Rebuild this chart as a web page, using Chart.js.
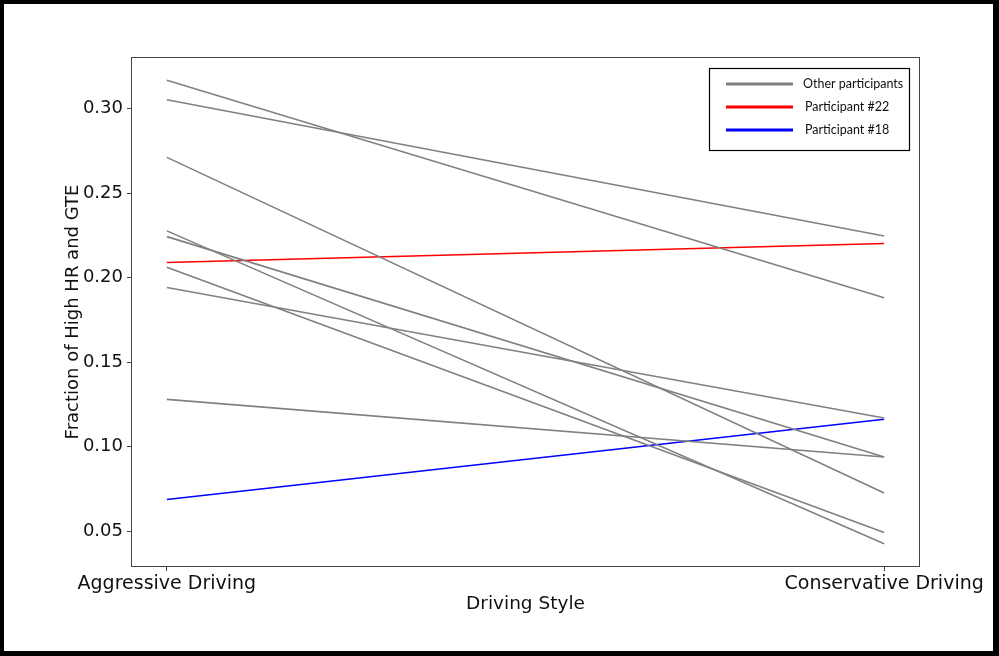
<!DOCTYPE html>
<html>
<head>
<meta charset="utf-8">
<script src="https://cdn.jsdelivr.net/npm/chart.js@4"></script>
<style>
  html, body { margin: 0; padding: 0; background: #fff; }
  #wrap { width: 999px; height: 656px; position: relative; }
</style>
</head>
<body>
<div id="wrap"><canvas id="c" width="999" height="656"></canvas></div>
<script>
// Categories on the x axis
const drivingStyles = ['Aggressive Driving', 'Conservative Driving'];

// Fraction of high HR and GTE, one value per participant for each driving style
const othersAggressive   = [0.3169, 0.3053, 0.2712, 0.2277, 0.2243, 0.2062, 0.1942, 0.1280];
const othersConservative = [0.1881, 0.2247, 0.0726, 0.0425, 0.0939, 0.0492, 0.1170, 0.0939];
const participant22 = [0.2090, 0.2202];
const participant18 = [0.0687, 0.1162];

// Y axis tick values
const yTickValues = [0.05, 0.10, 0.15, 0.20, 0.25, 0.30];

const seriesNames  = ['Other participants', 'Participant #22', 'Participant #18'];
const seriesColors = ['#808080', '#ff0000', '#0000ff'];

const toPoints = (vals) => vals.map((y, i) => ({ x: i, y }));

const datasets = othersAggressive.map((a, i) => ({
  label: i === 0 ? seriesNames[0] : '',
  data: toPoints([a, othersConservative[i]]),
  borderColor: seriesColors[0],
  inLegend: i === 0
}));
datasets.push({ label: seriesNames[1], data: toPoints(participant22), borderColor: seriesColors[1], inLegend: true });
datasets.push({ label: seriesNames[2], data: toPoints(participant18), borderColor: seriesColors[2], inLegend: true });

const xTickFont = { family: '"DejaVu Sans", sans-serif', size: 19 };
const yTickFont = { family: '"DejaVu Sans", sans-serif', size: 18 };
const xTitleFont = { family: '"DejaVu Sans", sans-serif', size: 18.5 };
const yTitleFont = { family: '"DejaVu Sans", sans-serif', size: 18 };
const textColor = '#111';

// Frame, top/right spines and the boxed legend
const decorPlugin = {
  id: 'decor',
  beforeDraw(chart) {
    const ctx = chart.ctx;
    ctx.save();
    ctx.fillStyle = '#fff';
    ctx.fillRect(0, 0, chart.width, chart.height);
    ctx.restore();
  },
  afterDraw(chart) {
    const ctx = chart.ctx;
    const ca = chart.chartArea;
    ctx.save();
    // plot spines
    ctx.strokeStyle = '#444';
    ctx.lineWidth = 1;
    ctx.strokeRect(Math.round(ca.left) + 0.5, Math.round(ca.top) + 0.5,
                   Math.round(ca.right - ca.left) - 1, Math.round(ca.bottom - ca.top) - 1);

    // legend box
    const lx = 709, ly = 68, lw = 200, lh = 82;
    ctx.fillStyle = '#fff';
    ctx.fillRect(lx, ly, lw, lh);
    ctx.strokeStyle = '#000';
    ctx.lineWidth = 1.2;
    ctx.strokeRect(lx + 0.5, ly + 0.5, lw, lh);
    const entries = chart.data.datasets.filter(d => d.inLegend);
    const rowY = [84, 107, 130];
    ctx.font = '12.5px Lato, "Open Sans", sans-serif';
    ctx.textBaseline = 'middle';
    ctx.textAlign = 'left';
    entries.forEach((d, i) => {
      ctx.strokeStyle = d.borderColor;
      ctx.lineWidth = 3;
      ctx.beginPath();
      ctx.moveTo(726, rowY[i]);
      ctx.lineTo(793, rowY[i]);
      ctx.stroke();
      ctx.fillStyle = '#111';
      ctx.fillText(d.label, i === 0 ? 803 : 805, rowY[i]);
    });

    // outer black frame
    ctx.fillStyle = '#000';
    ctx.fillRect(0, 0, chart.width, 4);
    ctx.fillRect(0, 0, 4, chart.height);
    ctx.fillRect(chart.width - 6, 0, 6, chart.height);
    ctx.fillRect(0, chart.height - 5, chart.width, 5);
    ctx.restore();
  }
};

new Chart(document.getElementById('c'), {
  type: 'line',
  data: { datasets },
  plugins: [decorPlugin],
  options: {
    responsive: false,
    animation: false,
    events: [],
    layout: { padding: { left: 0, right: 79, top: 57, bottom: 41 } },
    plugins: { legend: { display: false }, tooltip: { enabled: false } },
    elements: {
      point: { radius: 0 },
      line: { borderWidth: 1.6, tension: 0, fill: false }
    },
    scales: {
      x: {
        type: 'linear',
        min: -0.05,
        max: 1.05,
        afterBuildTicks: s => { s.ticks = drivingStyles.map((_, i) => ({ value: i })); },
        afterFit: s => { s.height = 48; s.paddingLeft = 0; s.paddingRight = 0; },
        ticks: {
          callback: v => drivingStyles[v] ?? '',
          font: xTickFont, color: textColor, padding: 2,
          maxRotation: 0, minRotation: 0, autoSkip: false
        },
        grid: { drawOnChartArea: false, drawTicks: true, tickLength: 4, color: '#444' },
        border: { display: false },
        title: { display: true, text: 'Driving Style', font: xTitleFont, color: textColor, padding: { top: 0, bottom: 0 } }
      },
      y: {
        type: 'linear',
        min: 0.0288,
        max: 0.3306,
        afterBuildTicks: s => { s.ticks = yTickValues.map(v => ({ value: v })); },
        afterFit: s => { s.width = 131; },
        ticks: {
          callback: v => v.toFixed(2),
          font: yTickFont, color: textColor, padding: 4
        },
        grid: { drawOnChartArea: false, drawTicks: true, tickLength: 4, color: '#444' },
        border: { display: false },
        title: { display: true, text: 'Fraction of High HR and GTE', font: yTitleFont, color: textColor, padding: { top: 63, bottom: 0 } }
      }
    }
  }
});
</script>
</body>
</html>
